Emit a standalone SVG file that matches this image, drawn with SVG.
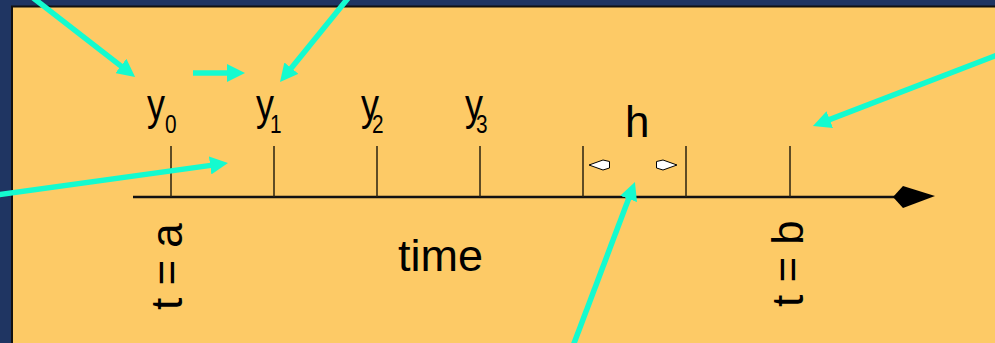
<svg xmlns="http://www.w3.org/2000/svg" width="995" height="343" viewBox="0 0 995 343">
<style>
.lbl{font-family:"Liberation Sans",Arial,sans-serif;fill:#000}
.big{font-size:45px}
.sub{font-size:26px}
.tick{stroke:#2a2210;stroke-width:1.5}
.cy{stroke:#14fbcf;stroke-width:5.5;fill:none;marker-end:url(#cyh)}
.wh{fill:#fff;stroke:#000;stroke-width:1}
</style>
<defs>
<marker id="cyh" markerUnits="userSpaceOnUse" markerWidth="20" markerHeight="18" viewBox="0 0 20 18" refX="8" refY="9" orient="auto">
<path d="M0,0 L18,9 L0,18 z" fill="#14fbcf"/>
</marker>
</defs>
<rect x="0" y="0" width="995" height="343" fill="#1f3562"/>
<rect id="panel" x="12" y="6.5" width="1000" height="345" fill="#fdca66" stroke="#111" stroke-width="2"/>

<g id="axis">
<line x1="133" y1="197" x2="895" y2="197" stroke="#111" stroke-width="2.5"/>
<polygon points="893,197 903,186 935,196 903,208" fill="#000"/>
</g>
<g id="ticks">
<line class="tick" x1="171" y1="146" x2="171" y2="197"/>
<line class="tick" x1="274" y1="146" x2="274" y2="197"/>
<line class="tick" x1="377" y1="146" x2="377" y2="197"/>
<line class="tick" x1="480" y1="146" x2="480" y2="197"/>
<line class="tick" x1="583" y1="146" x2="583" y2="197" stroke="#000"/>
<line class="tick" x1="686" y1="146" x2="686" y2="197" stroke="#000"/>
<line class="tick" x1="790" y1="146" x2="790" y2="197"/>
</g>

<g id="y0"><text class="lbl big" transform="translate(147,120) scale(0.8,1)">y<tspan class="sub" x="22.5" y="13">0</tspan></text></g>
<g id="y1"><text class="lbl big" transform="translate(256,120) scale(0.8,1)">y<tspan class="sub" x="17.5" y="13">1</tspan></text></g>
<g id="y2"><text class="lbl big" transform="translate(361,120) scale(0.8,1)">y<tspan class="sub" x="13.8" y="13">2</tspan></text></g>
<g id="y3"><text class="lbl big" transform="translate(465,120) scale(0.8,1)">y<tspan class="sub" x="13.8" y="13">3</tspan></text></g>

<g id="h">
<text class="lbl" style="font-size:44px" x="625" y="137">h</text>
<polygon class="wh" points="589,165 603,160 609.5,161.5 609.5,168 603,170"/>
<polygon class="wh" points="677,165 663,160 656.5,161.5 656.5,168 663,170"/>
</g>

<g id="time"><text class="lbl big" x="398" y="271">time</text></g>
<g id="ta"><text class="lbl" style="font-size:44px" transform="translate(182,310) rotate(-90)">t = a</text></g>
<g id="tb"><text class="lbl" style="font-size:44px" transform="translate(803,307) rotate(-90)">t = b</text></g>

<g id="connectors">
<line class="cy" x1="32" y1="-3" x2="127.2" y2="70.8"/>
<line class="cy" x1="193" y1="73" x2="235" y2="73"/>
<line class="cy" x1="349" y1="-3" x2="286.3" y2="74.3"/>
<line class="cy" x1="-3" y1="195" x2="218.1" y2="164.4"/>
<line class="cy" x1="1000" y1="54" x2="822.3" y2="122.4"/>
<line class="cy" x1="573" y1="346" x2="631.4" y2="191.4"/>
</g>
</svg>
